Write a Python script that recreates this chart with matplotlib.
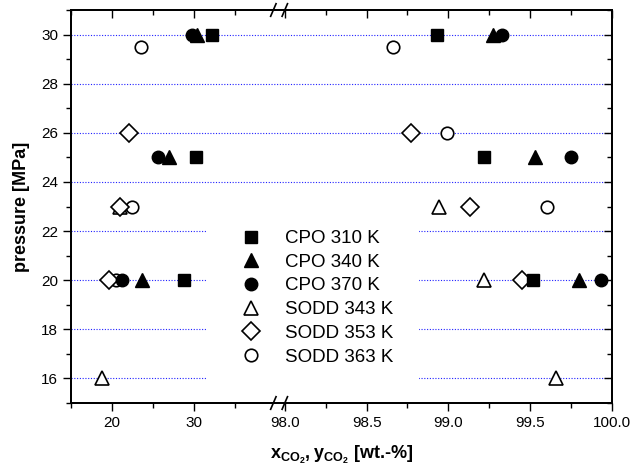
import numpy as np
import matplotlib.pyplot as plt
from matplotlib.ticker import FixedLocator, FuncFormatter

plt.rcParams['font.family'] = ['Liberation Sans', 'DejaVu Sans']
plt.rcParams['mathtext.fontset'] = 'custom'
plt.rcParams['mathtext.rm'] = 'Liberation Sans'
plt.rcParams['mathtext.bf'] = 'Liberation Sans:bold'

# liquid (left) and vapour (right) compositions, wt.-% CO2
cpo310_x = [32.2, 30.3, 28.8, 98.93, 99.22, 99.52]
cpo310_p = [30, 25, 20, 30, 25, 20]
cpo340_x = [30.4, 26.9, 23.7, 99.27, 99.53, 99.80]
cpo340_p = [30, 25, 20, 30, 25, 20]
cpo370_x = [29.8, 25.6, 21.2, 99.33, 99.75, 99.93]
cpo370_p = [30, 25, 20, 30, 25, 20]
sodd343_x = [20.9, 18.8, 98.94, 99.22, 99.66]
sodd343_p = [23, 16, 23, 20, 16]
sodd353_x = [22.0, 21.0, 19.6, 98.77, 99.13, 99.45]
sodd353_p = [26, 23, 20, 26, 23, 20]
sodd363_x = [23.55, 22.4, 20.5, 98.66, 98.99, 99.60]
sodd363_p = [29.5, 23, 20, 29.5, 26, 23]

# broken x axis: 15..40 and 98..100 (right part stretched 20x)
def fwd(x):
    return np.interp(x, [-100, 40, 98, 200], [-100, 40, 41.1, 41.1 + 102 * 20])

def inv(u):
    return np.interp(u, [-100, 40, 41.1, 41.1 + 102 * 20], [-100, 40, 98, 200])

xmaj = [20, 30, 98.0, 98.5, 99.0, 99.5, 100.0]
xmin = [15, 25, 35, 98.25, 98.75, 99.25, 99.75]
ymaj = [16, 18, 20, 22, 24, 26, 28, 30]
ymin = [15, 17, 19, 21, 23, 25, 27, 29, 31]

fig = plt.figure(figsize=(6.33, 4.72), dpi=100)
ax = fig.add_axes([71.3 / 633, 1 - 403 / 472, (612 - 71.3) / 633, (403 - 10) / 472])

def setup_x(a):
    a.set_xscale('function', functions=(fwd, inv))
    a.set_xlim(15, 100)
    a.xaxis.set_major_locator(FixedLocator(xmaj))
    a.xaxis.set_minor_locator(FixedLocator(xmin))

setup_x(ax)
ax.set_ylim(15, 31)
ax.yaxis.set_major_locator(FixedLocator(ymaj))
ax.yaxis.set_minor_locator(FixedLocator(ymin))
ax.xaxis.set_major_formatter(FuncFormatter(lambda v, p: '%d' % v if v < 50 else '%.1f' % v))
ax.tick_params(which='both', direction='out', top=False, right=False, labelsize=11, width=1)
ax.tick_params(which='major', length=6)
ax.tick_params(which='minor', length=3.5)
ax.set_axisbelow(True)
ax.yaxis.grid(True, which='major', color='#2020ff', linestyle=(0, (1, 1.5)), linewidth=0.8)

ax_top = ax.twiny()
setup_x(ax_top)
ax_top.tick_params(which='both', direction='in', labeltop=False, width=1)
ax_top.tick_params(which='major', length=6)
ax_top.tick_params(which='minor', length=3.5)
ax_r = ax.twinx()
ax_r.set_ylim(15, 31)
ax_r.yaxis.set_major_locator(FixedLocator(ymaj))
ax_r.yaxis.set_minor_locator(FixedLocator(ymin))
ax_r.tick_params(which='both', direction='in', labelright=False, width=1)
ax_r.tick_params(which='major', length=6)
ax_r.tick_params(which='minor', length=3.5)
for a in (ax, ax_top, ax_r):
    for s in a.spines.values():
        s.set_linewidth(1.2)

open_kw = dict(markerfacecolor='white', markeredgecolor='black', markeredgewidth=1.2, linestyle='none')
fill_kw = dict(color='black', linestyle='none')
h4, = ax.plot(sodd343_x, sodd343_p, marker='^', markersize=10, label='SODD 343 K', zorder=2, **open_kw)
h6, = ax.plot(sodd363_x, sodd363_p, marker='o', markersize=9, label='SODD 363 K', zorder=2, **open_kw)
h5, = ax.plot(sodd353_x, sodd353_p, marker='D', markersize=9.5, label='SODD 353 K', zorder=2, **open_kw)
h1, = ax.plot(cpo310_x, cpo310_p, marker='s', markersize=8.5, label='CPO 310 K', zorder=3, **fill_kw)
h2, = ax.plot(cpo340_x, cpo340_p, marker='^', markersize=10, label='CPO 340 K', zorder=3, **fill_kw)
h3, = ax.plot(cpo370_x, cpo370_p, marker='o', markersize=9, label='CPO 370 K', zorder=3, **fill_kw)

leg = ax.legend(handles=[h1, h2, h3, h4, h5, h6], loc='upper left', bbox_to_anchor=(0.232, 0.531),
                fontsize=13.5, frameon=True, edgecolor='none', facecolor='white', framealpha=1,
                fancybox=False, labelspacing=0.35, handletextpad=0.8, borderpad=1.4)
leg.set_zorder(5)

# axis break marks
span = fwd(100) - fwd(15)
for xb in [39.7, inv(41.1)]:
    fx = (fwd(xb) - fwd(15)) / span
    for yb in (0, 1):
        ax.plot([fx - 0.005, fx + 0.005], [yb - 0.016, yb + 0.016], transform=ax.transAxes,
                color='black', lw=1.2, clip_on=False, zorder=6)

ax.set_ylabel('pressure [MPa]', fontsize=13, fontweight='bold', labelpad=8)
ax.set_xlabel(r'$\mathbf{x_{CO_2}, y_{CO_2}}$ [wt.-%]', fontsize=13, fontweight='bold', labelpad=10)

fig.savefig('out.png', dpi=100)
